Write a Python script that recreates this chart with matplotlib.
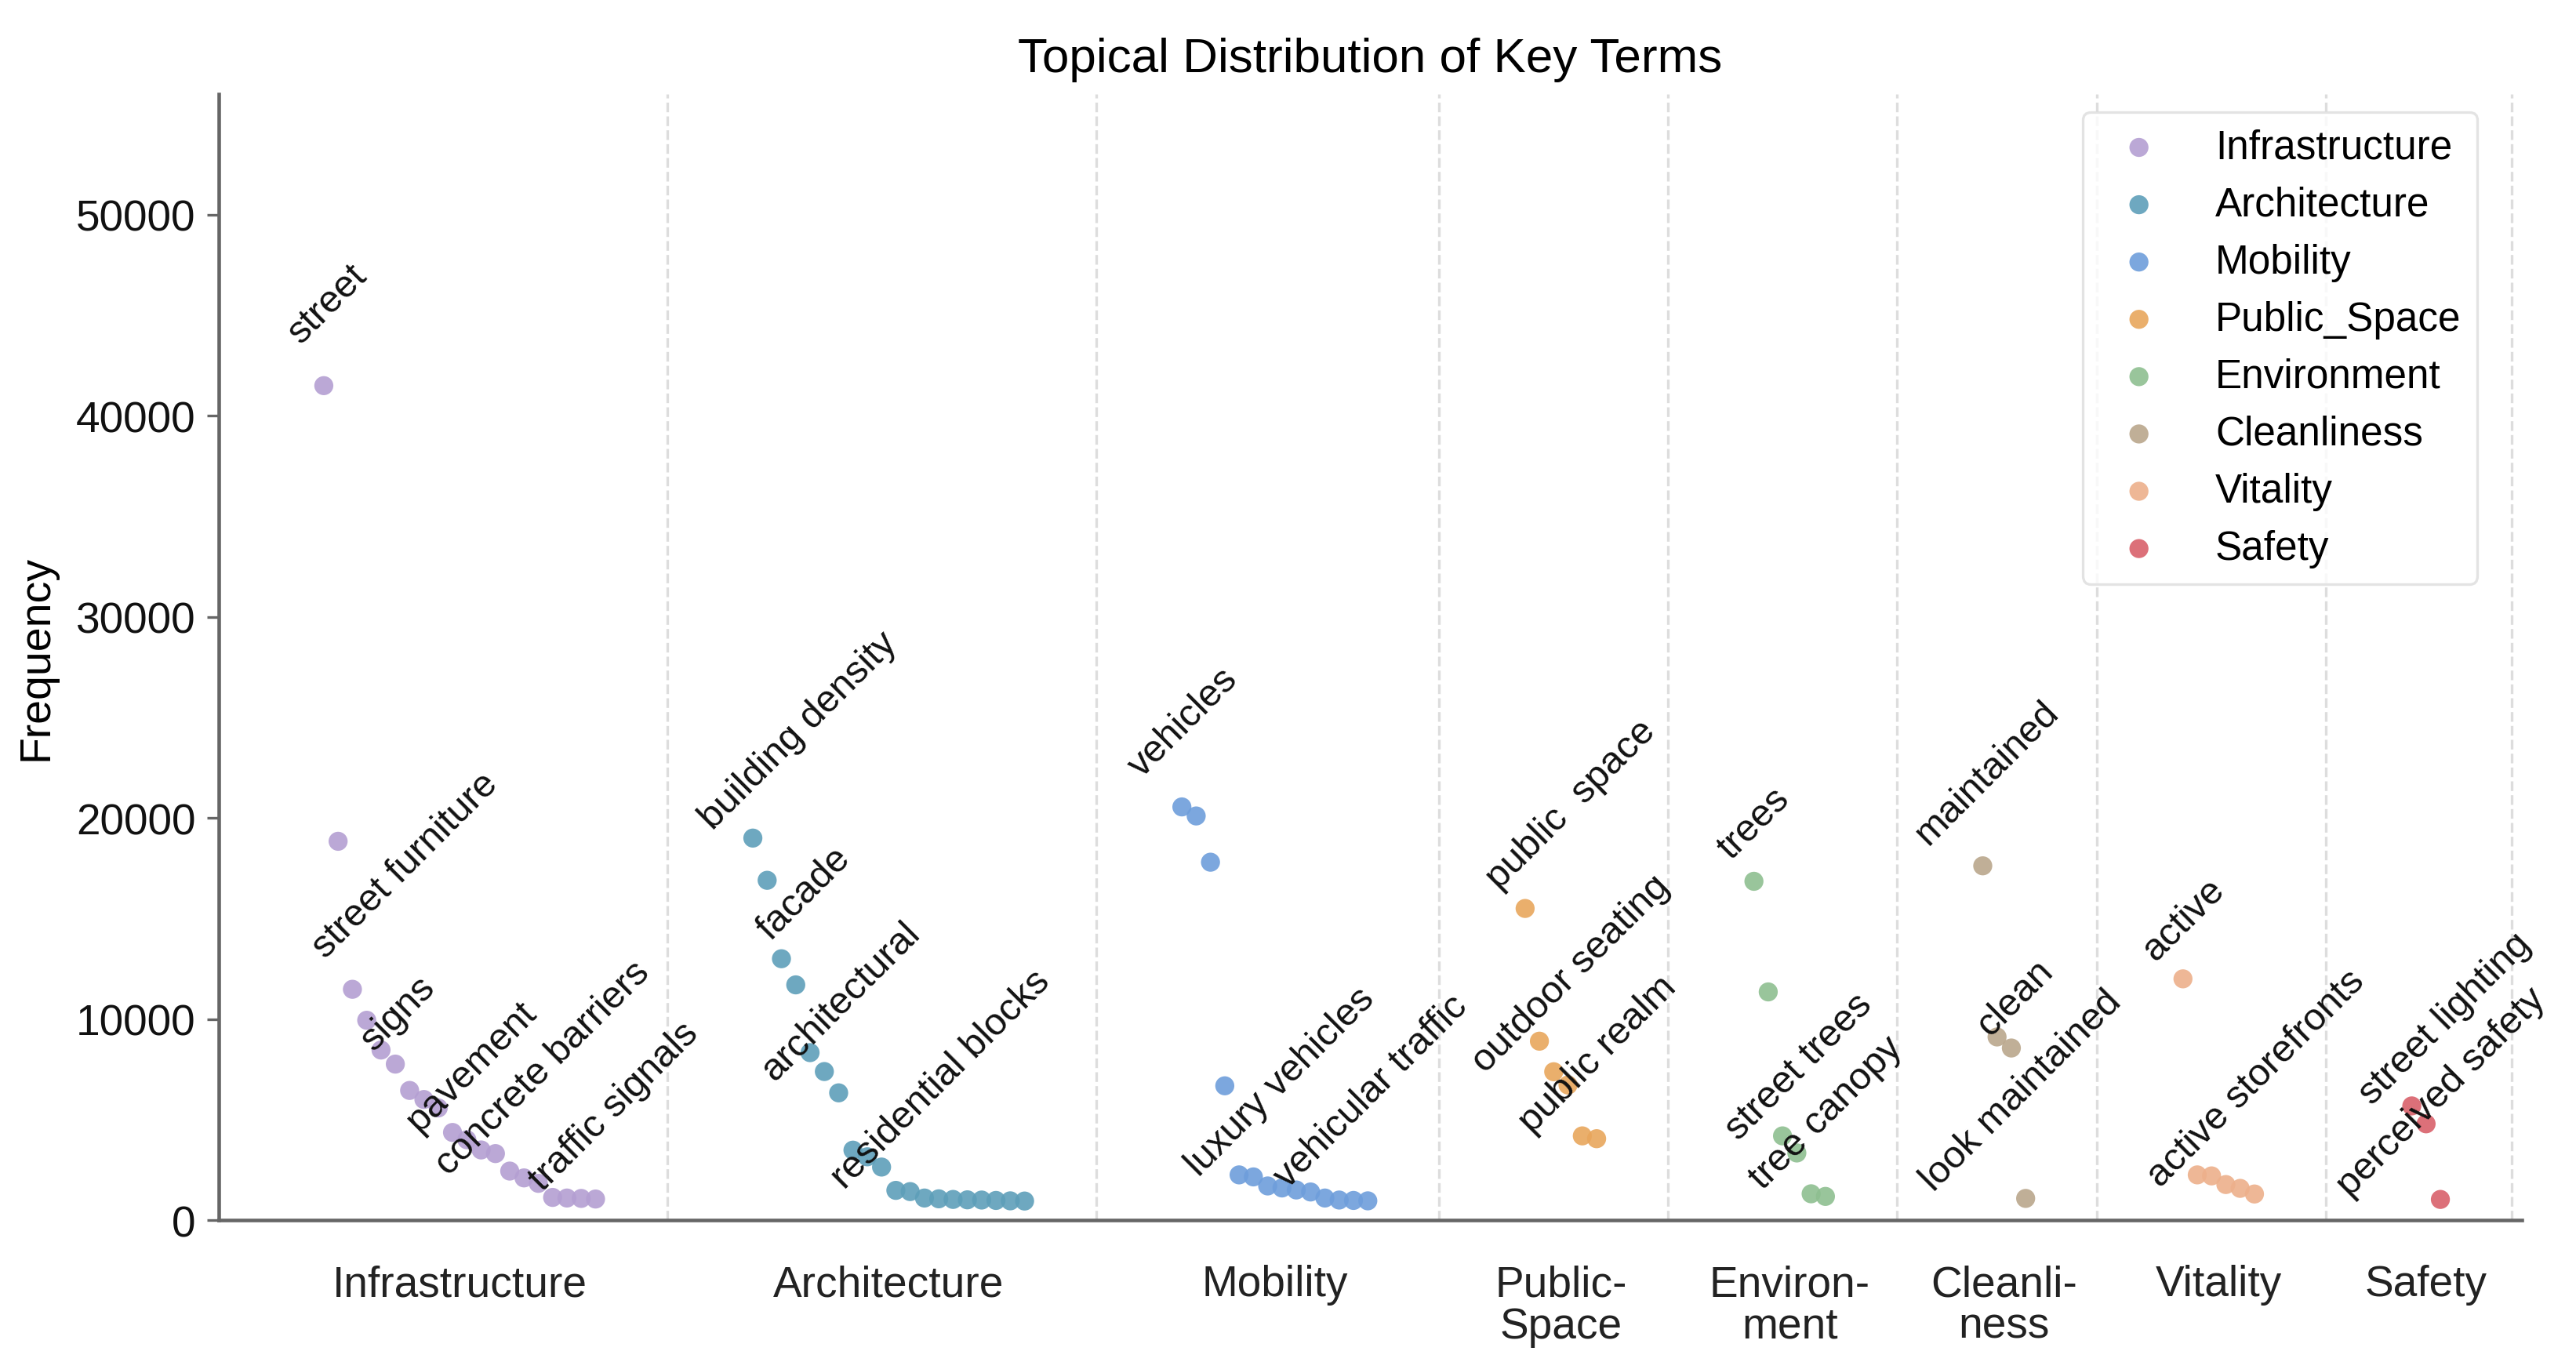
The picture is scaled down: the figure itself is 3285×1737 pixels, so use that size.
import matplotlib
matplotlib.use("Agg")
import matplotlib.pyplot as plt
import numpy as np

plt.rcParams['font.family'] = ['Liberation Sans', 'DejaVu Sans']

# categories and frequencies (sorted)
categories = ['Infrastructure', 'Architecture', 'Mobility', 'Public_Space',
              'Environment', 'Cleanliness', 'Vitality', 'Safety']
tick_labels = ['Infrastructure', 'Architecture', 'Mobility', 'Public-\nSpace',
               'Environ-\nment', 'Cleanli-\nness', 'Vitality', 'Safety']
colors = ['#b49fd2', '#5e9fb9', '#6e9edb', '#e8a65c',
          '#8ebf90', '#baa78c', '#edb08b', '#d9606a']

infrastructure = [41500, 18840, 11480, 9940, 8460, 7760, 6450, 6000, 5580, 4360,
                  4000, 3490, 3310, 2440, 2100, 1830, 1130, 1100, 1080, 1050]
architecture = [19000, 16900, 13000, 11700, 8330, 7390, 6330, 3480, 3150, 2640,
                1480, 1420, 1100, 1060, 1030, 1010, 1000, 980, 960, 950]
mobility = [20550, 20100, 17800, 6680, 2250, 2150, 1700, 1600, 1500, 1400,
            1100, 1000, 980, 960]
public_space = [15500, 8900, 7380, 6720, 4190, 4050]
environment = [16850, 11350, 4190, 3340, 1310, 1180]
cleanliness = [17620, 9110, 8560, 1080]
vitality = [12000, 2250, 2200, 1770, 1580, 1300]
safety = [5680, 4790, 1030]
values = [infrastructure, architecture, mobility, public_space,
          environment, cleanliness, vitality, safety]

# annotated terms: (category index, rank within category, text)
annotations = [
    (0, 0, 'street'), (0, 1, 'street furniture'), (0, 2, 'signs'),
    (0, 5, 'pavement'), (0, 8, 'concrete barriers'), (0, 13, 'traffic signals'),
    (1, 0, 'building density'), (1, 1, 'facade'), (1, 3, 'architectural'),
    (1, 7, 'residential blocks'),
    (2, 0, 'vehicles'), (2, 3, 'luxury vehicles'), (2, 6, 'vehicular traffic'),
    (3, 0, 'public  space'), (3, 1, 'outdoor seating'), (3, 2, 'public realm'),
    (4, 0, 'trees'), (4, 2, 'street trees'), (4, 3, 'tree canopy'),
    (5, 0, 'maintained'), (5, 1, 'clean'), (5, 3, 'look maintained'),
    (6, 0, 'active'), (6, 1, 'active storefronts'),
    (7, 0, 'street lighting'), (7, 1, 'perceived safety'),
]
# label offsets from their point (x in slots, y in frequency units)
label_offsets = [
    (-1.6, 2050), (-0.9, -5850), (1.5, -3100), (1.7, -3390), (0.7, -3390), (2.3, -1030),
    (-2.8, 370), (0.2, -3010), (-1.5, -4780), (-0.6, -1940),
    (-2.8, 1440), (-1.8, -4540), (1.4, -150),
    (-1.8, 920), (-3.8, -1590), (-1.5, -3070),
    (-1.6, 1070), (-3.1, -250), (-2.4, -1840),
    (-3.8, 1010), (-0.5, 30), (-6.4, 340),
    (-1.9, 860), (-2.6, -640),
    (-2.8, 20), (-5.3, -3670),
]

gap = 10

fig = plt.figure(figsize=(10.95, 5.7933), dpi=300)
ax = fig.add_axes([0.0849, 0.1041, 0.8941, 0.8263])

positions = []
centers = []
seps = []
start = 0
for cat, vals, col in zip(categories, values, colors):
    xs = start + np.arange(len(vals))
    positions.append(xs)
    ax.scatter(xs, vals, s=34, color=col, alpha=0.9, edgecolors='none',
               label=cat, zorder=3)
    centers.append(xs.mean())
    seps.append(xs[-1] + gap / 2)
    start = xs[-1] + 1 + gap

for sx in seps:
    ax.axvline(sx, color='#dddddd', linestyle='--', linewidth=0.8, zorder=1)

for (ci, rank, text), (dx, dy) in zip(annotations, label_offsets):
    x = positions[ci][rank]
    y = values[ci][rank]
    ax.text(x + dx, y + dy, text, rotation=45, rotation_mode='anchor',
            ha='left', va='baseline', fontsize=11.7, color='#111111', zorder=4)

ax.set_xlim(-7.35, 153.7)
ax.set_ylim(0, 56000)
ax.set_yticks([0, 10000, 20000, 30000, 40000, 50000])
ax.set_xticks(centers)
ax.set_xticklabels(tick_labels, fontsize=13.2, linespacing=1.03)
ax.tick_params(axis='x', length=0, pad=13.5, colors='#222222')
ax.tick_params(axis='y', labelsize=13.2, colors='#666666', labelcolor='#111111')
ax.set_ylabel('Frequency', fontsize=13.3, labelpad=6)
ax.set_title('Topical Distribution of Key Terms', fontsize=14.9, pad=7)

for side in ['top', 'right']:
    ax.spines[side].set_visible(False)
for side in ['left', 'bottom']:
    ax.spines[side].set_color('#666666')
    ax.spines[side].set_linewidth(1.1)

leg = ax.legend(loc='upper right', bbox_to_anchor=(0.9806, 0.984),
                borderaxespad=0, fontsize=12.3, labelspacing=0.47,
                handletextpad=0.9, frameon=True, fancybox=True)
leg.get_frame().set_edgecolor('#dddddd')
leg.get_frame().set_linewidth(0.8)

fig.savefig('out.png', dpi=300)
